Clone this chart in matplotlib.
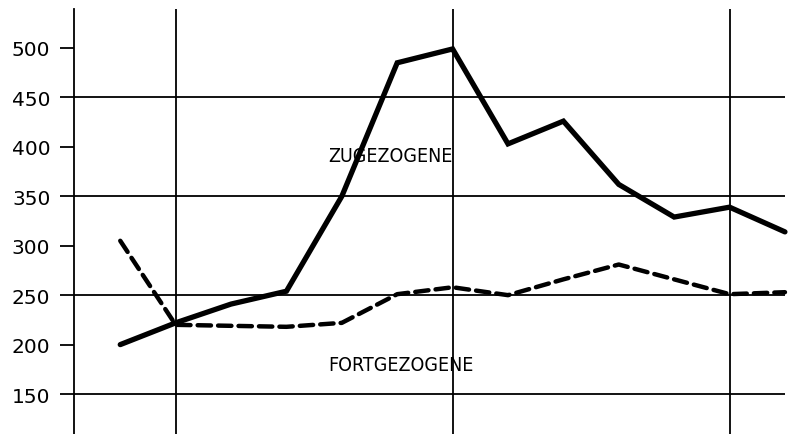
import matplotlib.pyplot as plt

# Werte
punkte = list(range(13))
zugezogene = [200, 222, 241, 254, 350, 485, 499, 403, 426, 362, 329, 339, 314]
fortgezogene = [305, 220, 219, 218, 222, 251, 258, 250, 266, 281, 266, 251, 253]
y_ticks = [150, 200, 250, 300, 350, 400, 450, 500]
gitter_y = [150, 250, 350, 450]
gitter_x = [1, 6, 11]

fig = plt.figure(figsize=(8.06, 4.35), dpi=100)
ax = fig.add_axes([74 / 806, 0, 1 - 74 / 806, 1 - 10 / 435])

x_links = -0.835
ax.set_xlim(x_links, 12.38)
ax.set_ylim(109.6, 539.4)

# Gitterlinien
ax.hlines(gitter_y, x_links, 12, color='black', lw=1.3, zorder=1)
ax.vlines(gitter_x, 109.6, 539.4, color='black', lw=1.3, zorder=1)

ax.plot(punkte, zugezogene, color='black', lw=3.8, solid_capstyle='round',
        solid_joinstyle='miter', zorder=3)
ax.plot(punkte, fortgezogene, color='black', lw=3.2, dashes=(3, 1.6),
        dash_capstyle='round', zorder=3)

ax.text(3.75, 391, 'ZUGEZOGENE', fontsize=14, va='center', ha='left',
        family='DejaVu Sans', fontstretch='condensed')
ax.text(3.75, 180, 'FORTGEZOGENE', fontsize=14, va='center', ha='left',
        family='DejaVu Sans', fontstretch='condensed')

for s in ['top', 'right', 'bottom']:
    ax.spines[s].set_visible(False)
ax.spines['left'].set_linewidth(1.3)

ax.set_xticks([])
ax.set_yticks(y_ticks)
ax.tick_params(axis='y', length=10, width=1.3, pad=7, labelsize=14.5)

plt.savefig('out.png', dpi=100)
